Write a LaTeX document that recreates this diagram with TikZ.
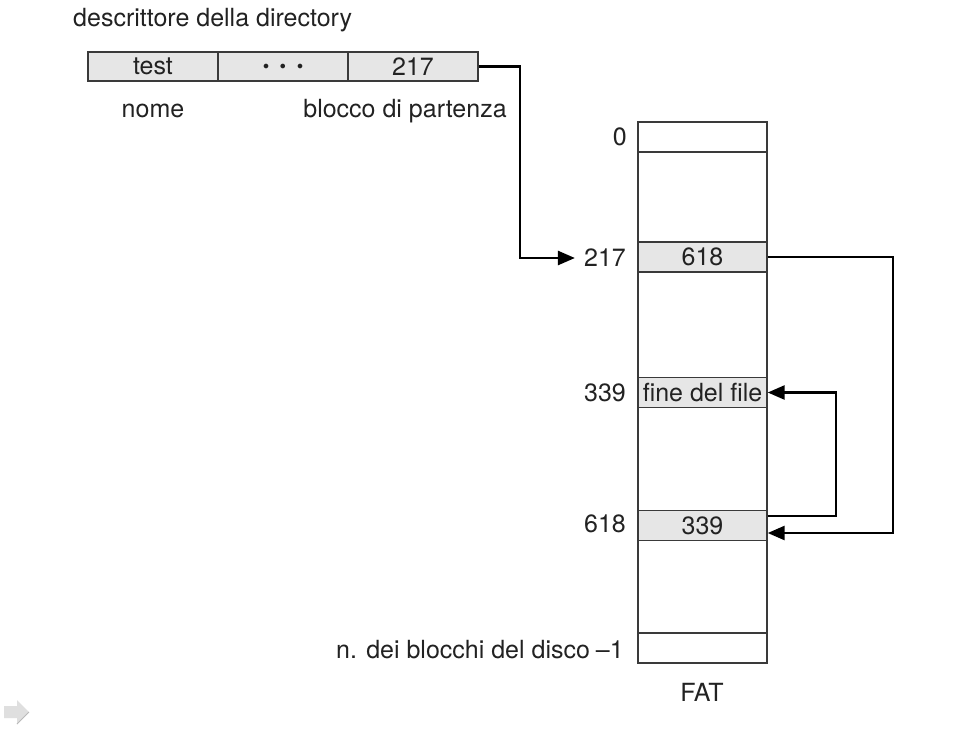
\documentclass[tikz,border=0pt]{standalone}
\usepackage{fontspec}
\setmainfont{TeX Gyre Heros}
\usetikzlibrary{arrows.meta}
\definecolor{cellfill}{HTML}{E6E6E6}
\definecolor{linec}{HTML}{3A3A3A}
\definecolor{txt}{HTML}{222222}
\begin{document}
\begin{tikzpicture}[x=1pt,y=-1pt,
  every node/.style={text=txt,font=\fontsize{25}{28}\selectfont},
  cell/.style={draw=linec,line width=1.4pt,fill=cellfill,minimum width=130pt,minimum height=29pt,inner sep=0pt,anchor=center},
  fatrow/.style={draw=linec,line width=1.4pt,minimum width=129pt,minimum height=30pt,inner sep=0pt},
  fatfill/.style={fatrow,fill=cellfill},
  lbl/.style={inner sep=0pt,anchor=east},
  arr/.style={draw=black,line width=2.6pt,-{Triangle[length=17pt,width=14pt]}}]
\useasboundingbox (0,0) rectangle (960,731);
\fill[white] (0,0) rectangle (960,731);
% directory descriptor
\node[inner sep=0pt,anchor=west] (title) at (73,20) {descrittore della directory};
\node[cell] (ctest) at (153,66.5) {test};
\node[cell] (cdots) at (283,66.5) {\fontsize{13}{13}\selectfont$\bullet$\hspace{11pt}$\bullet$\hspace{11pt}$\bullet$};
\node[cell] (c217) at (413,66.5) {217};
\node[inner sep=0pt] (nome) at (153,111) {nome};
\node[inner sep=0pt] (blocco) at (405,111) {blocco di partenza};
% FAT column
\node[draw=linec,line width=1.4pt,minimum width=129pt,minimum height=541pt,inner sep=0pt] (fat) at (702.5,392.5) {};
\node[fatrow] (r0) at (702.5,137) {};
\node[fatfill] (r217) at (702.5,257) {618};
\node[fatfill] (r339) at (702.5,392.5) {fine del file};
\node[fatfill] (r618) at (702.5,525.5) {339};
\node[fatrow] (rlast) at (702.5,648) {};
\node[inner sep=0pt] (fatlbl) at (702,692) {FAT};
% index labels
\node[lbl] (l0) at (627,137) {0};
\node[lbl] (l217) at (626,258) {217};
\node[lbl] (l339) at (626,393) {339};
\node[lbl] (l618) at (626,524) {618};
\node[lbl] (llast) at (624,650) {n. dei blocchi del disco\hspace{6pt}–1};
% connectors
\draw[arr] (c217.east) -- (520,66.5) |- ([xshift=-9pt]l217.west);
\draw[arr] (r217.east) -- (893,257) |- ([yshift=-7.5pt]r618.east);
\draw[arr] ([yshift=9.5pt]r618.east) -- (836,516) |- (r339.east);
% slide navigation arrow
\fill[gray!25] (4,706) -- (17,706) -- (17,700) -- (29,712) -- (17,724) -- (17,718) -- (4,718) -- cycle;
\draw[gray!55,line width=0.8pt] (17,724) -- (29,712);
\end{tikzpicture}
\end{document}
